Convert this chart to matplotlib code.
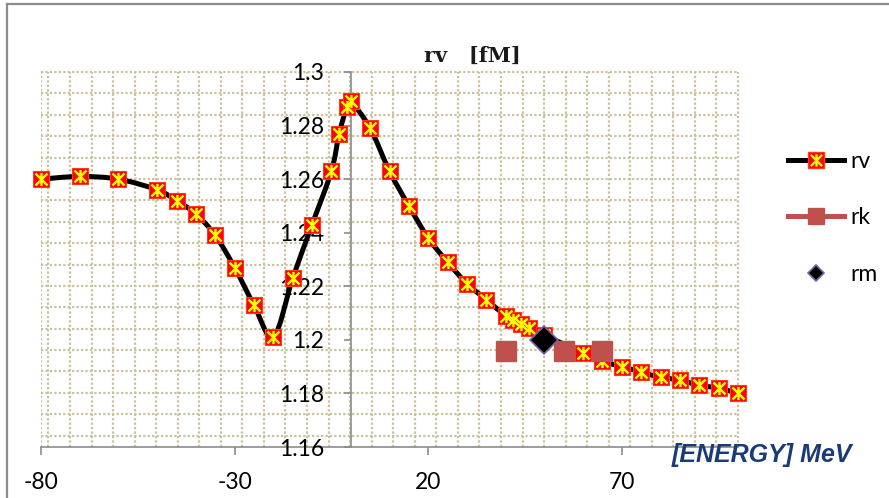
import numpy as np
import matplotlib
matplotlib.use('Agg')
import matplotlib.pyplot as plt
from matplotlib.path import Path
from matplotlib.patches import PathPatch
from matplotlib.lines import Line2D
from matplotlib.legend_handler import HandlerTuple

# data
rv_x = [-80, -70, -60, -50, -45, -40, -35, -30, -25, -20, -15, -10, -5, -3, -1, 0,
        5, 10, 15, 20, 25, 30, 35, 40, 42, 44, 46, 50, 60, 65, 70, 75, 80, 85, 90, 95, 100]
rv_y = [1.260, 1.261, 1.260, 1.256, 1.252, 1.247, 1.239, 1.227, 1.213, 1.201, 1.223, 1.243,
        1.263, 1.277, 1.287, 1.289, 1.279, 1.263, 1.250, 1.238, 1.229, 1.221, 1.215, 1.209,
        1.2075, 1.206, 1.2043, 1.2017, 1.1952, 1.192, 1.190, 1.188, 1.186, 1.185, 1.183,
        1.182, 1.180]
rk_x = [40, 55, 65]
rk_y = [1.196, 1.196, 1.196]
rm_x = [50]
rm_y = [1.200]
x_ticks = [-80, -30, 20, 70]
y_ticks = [1.16, 1.18, 1.20, 1.22, 1.24, 1.26, 1.28, 1.30]
y_labels = ['1.16', '1.18', '1.2', '1.22', '1.24', '1.26', '1.28', '1.3']

RED = '#ff0000'
YEL = '#ffff00'
RK = '#c0504d'
NAVY = '#1b3a78'
GRID = '#c8c19c'
SPINE = '#8c8c8c'

# X plus vertical bar, like the excel "star" marker
star = Path([(-1, -1), (1, 1), (-1, 1), (1, -1), (0, -1.1), (0, 1.1)],
            [Path.MOVETO, Path.LINETO, Path.MOVETO, Path.LINETO, Path.MOVETO, Path.LINETO])


def smooth_path(x, y):
    # excel style smoothed line: cubic bezier with 1/6 tangents
    p = np.column_stack([x, y]).astype(float)
    n = len(p)
    verts = [p[0]]
    codes = [Path.MOVETO]
    for i in range(n - 1):
        p0 = p[i - 1] if i > 0 else p[i]
        p3 = p[i + 2] if i + 2 < n else p[i + 1]
        c1 = p[i] + (p[i + 1] - p0) / 6.0
        c2 = p[i + 1] - (p3 - p[i]) / 6.0
        verts += [c1, c2, p[i + 1]]
        codes += [Path.CURVE4] * 3
    return Path(verts, codes)


plt.rcParams['font.family'] = ['Lato', 'DejaVu Sans']
fig = plt.figure(figsize=(8.89, 4.98), dpi=100)
ax = fig.add_axes([41 / 889, 1 - 447 / 498, 697 / 889, 375 / 498])
ax.set_xlim(-80, 100)
ax.set_ylim(1.16, 1.30)

# dotted pattern fill of the plot area
for k in range(33):
    f = 1 - k * 21.55 / 697
    ax.plot([f, f], [0, 1], transform=ax.transAxes, color=GRID, lw=1.6,
            ls=(0, (1, 1)), zorder=0, clip_on=False)
ax.plot([0, 0], [0, 1], transform=ax.transAxes, color=GRID, lw=1.6, ls=(0, (1, 1)), zorder=0)
for k in range(18):
    f = 1 - k * 21.39 / 375
    ax.plot([0, 1], [f, f], transform=ax.transAxes, color=GRID, lw=1.6,
            ls=(0, (1, 1)), zorder=0, clip_on=False)

for s in ['top', 'right']:
    ax.spines[s].set_visible(False)
ax.spines['left'].set_position(('data', 0))
for s in ['left', 'bottom']:
    ax.spines[s].set_color(SPINE)
    ax.spines[s].set_linewidth(1.2)
    ax.spines[s].set_zorder(1)

ax.set_xticks(x_ticks)
ax.set_xticklabels([str(v) for v in x_ticks])
ax.set_yticks(y_ticks)
ax.set_yticklabels(y_labels)
ax.tick_params(axis='x', direction='out', length=6, width=1.2, color=SPINE, pad=12, labelsize=16.5)
ax.tick_params(axis='y', direction='out', length=5, width=1.2, color=SPINE, pad=14, labelsize=16.5)

# rv series
ax.add_patch(PathPatch(smooth_path(rv_x, rv_y), fc='none', ec='black', lw=3.6,
                       zorder=3, capstyle='round', joinstyle='round'))
ax.plot(rv_x, rv_y, ls='none', marker='s', ms=11.5, mfc=RED, mec='#ff3a1a', mew=0.8,
        zorder=4, clip_on=False)
ax.plot(rv_x, rv_y, ls='none', marker=star, ms=9.5, mec=YEL, mew=1.7, mfc='none',
        zorder=5, clip_on=False)
# rk and rm
ax.plot(rk_x, rk_y, ls='none', marker='s', ms=14.5, mfc=RK, mec=RK, zorder=6)
ax.plot(rm_x, rm_y, ls='none', marker='D', ms=14, mfc='black', mec='#7a64a8', mew=1.2, zorder=7)

ax.set_title('rv   [fM]', family='DejaVu Serif', fontweight='bold', fontsize=15,
             color='#1a1a1a', x=(472 - 41) / 697, y=1.0, pad=7)

fig.text((663 + 860) / 2 / 889, 1 - 455 / 498, '[ENERGY] MeV', family='Liberation Sans',
         fontweight='bold', style='italic', fontsize=18, color=NAVY, ha='center', va='center')

# legend
h_rv = (Line2D([], [], color='black', lw=3.6, marker='s', ms=11, mfc=RED, mec='#ff3a1a'),
        Line2D([], [], ls='none', marker=star, ms=9, mec=YEL, mew=1.6, mfc='none'))
h_rk = Line2D([], [], color=RK, lw=3.6, marker='s', ms=12, mfc=RK, mec=RK)
h_rm = Line2D([], [], ls='none', marker='D', ms=8.5, mfc='black', mec='#7a64a8', mew=1.2)
fig.legend([h_rv, h_rk, h_rm], ['rv', 'rk', 'rm'], loc='center left',
           bbox_to_anchor=(788 / 889, 1 - 218 / 498), frameon=False, fontsize=16.5,
           handlelength=2.45, handletextpad=0.25, labelspacing=1.55, borderpad=0,
           borderaxespad=0, handler_map={tuple: HandlerTuple(ndivide=1)})

# outer chart border (top and left visible)
fig.add_artist(Line2D([7 / 889, 7 / 889], [0, 1 - 4 / 498], transform=fig.transFigure,
                      color=SPINE, lw=1.6))
fig.add_artist(Line2D([7 / 889, 1], [1 - 4 / 498, 1 - 4 / 498], transform=fig.transFigure,
                      color=SPINE, lw=1.6))

fig.savefig('out.png', dpi=100)
